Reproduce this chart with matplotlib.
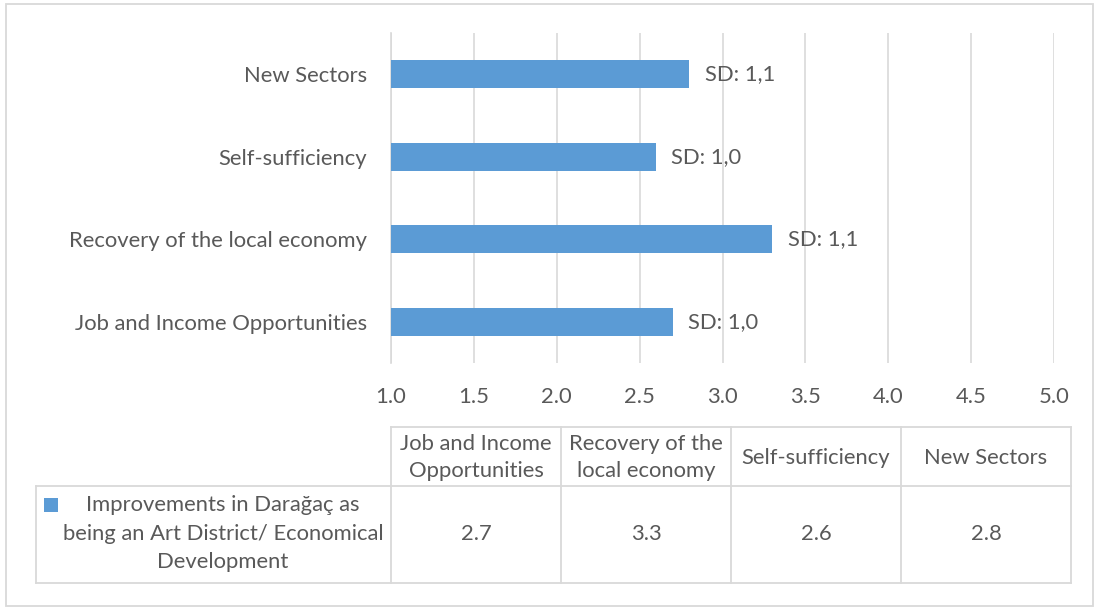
import numpy as np
import matplotlib
matplotlib.use("Agg")
import matplotlib.pyplot as plt
from matplotlib.patches import Rectangle

plt.rcParams["font.family"] = ["Lato", "DejaVu Sans"]

# data
categories = ["Job and Income Opportunities", "Recovery of the local economy",
              "Self-sufficiency", "New Sectors"]
header_labels = ["Job and Income\nOpportunities", "Recovery of the\nlocal economy",
                 "Self-sufficiency", "New Sectors"]
means = [2.7, 3.3, 2.6, 2.8]
sd_labels = ["SD: 1,0", "SD: 1,1", "SD: 1,0", "SD: 1,1"]
x_ticks = [1.0, 1.5, 2.0, 2.5, 3.0, 3.5, 4.0, 4.5, 5.0]
series_name = "Improvements in Darağaç as\nbeing an Art District/ Economical\nDevelopment"

BAR = "#5B9BD5"
GRID = "#D9D9D9"
TXT = "#595959"
FS = 15.8

W, H = 1099, 610
fig = plt.figure(figsize=(W / 100, H / 100), dpi=100)

# bar chart area (pixel box -> figure fraction)
x0, x1, y0, y1 = 391, 1054, 33, 363
ax = fig.add_axes([x0 / W, 1 - y1 / H, (x1 - x0) / W, (y1 - y0) / H])
ypos = np.arange(len(categories))
ax.barh(ypos, means, height=0.34, color=BAR, zorder=3)
for y, m, s in zip(ypos, means, sd_labels):
    ax.annotate(s, xy=(m, y), xytext=(11, 0), textcoords="offset points",
                va="center", ha="left", fontsize=FS, color=TXT)
ax.set_xlim(1, 5)
ax.set_ylim(-0.5, len(categories) - 0.5)
ax.set_xticks(x_ticks)
ax.set_xticklabels([f"{t:.1f}" for t in x_ticks])
ax.set_yticks(ypos)
ax.set_yticklabels(categories)
ax.tick_params(axis="both", length=0, labelsize=FS, labelcolor=TXT)
ax.tick_params(axis="x", pad=17.5)
ax.tick_params(axis="y", pad=17)
ax.grid(axis="x", color=GRID, linewidth=1.2, zorder=0)
for side in ("top", "right", "bottom"):
    ax.spines[side].set_visible(False)
ax.spines["left"].set_color(GRID)
ax.spines["left"].set_linewidth(1.2)

# data table drawn in pixel coordinates below the chart
ov = fig.add_axes([0, 0, 1, 1], facecolor="none")
ov.set_xlim(0, W)
ov.set_ylim(H, 0)
ov.axis("off")

lc = dict(color=GRID, linewidth=1.3)
ov.add_patch(Rectangle((6, 4), 1087, 602, fill=False, edgecolor=GRID, linewidth=1.3))

col_w = 170
tx0 = 391
t_top, t_mid, t_bot = 427, 486, 583
ncol = len(header_labels)
tx1 = tx0 + col_w * ncol
leg_x = 36

ov.plot([tx0, tx1], [t_top, t_top], **lc)
ov.plot([leg_x, tx1], [t_mid, t_mid], **lc)
ov.plot([leg_x, tx1], [t_bot, t_bot], **lc)
ov.plot([leg_x, leg_x], [t_mid, t_bot], **lc)
for k in range(ncol + 1):
    xk = tx0 + col_w * k
    ov.plot([xk, xk], [t_top, t_bot], **lc)

for k, (lab, m) in enumerate(zip(header_labels, means)):
    cx = tx0 + col_w * (k + 0.5)
    ov.text(cx, (t_top + t_mid) / 2 + 1, lab, ha="center", va="center",
            fontsize=FS, color=TXT, linespacing=1.4)
    ov.text(cx, (t_mid + t_bot) / 2, f"{m:.1f}", ha="center", va="center",
            fontsize=FS, color=TXT)

ov.add_patch(Rectangle((44, 498), 14, 14, color=BAR, linewidth=0))
ov.text(223, (t_mid + t_bot) / 2 - 1, series_name, ha="center", va="center",
        fontsize=FS, color=TXT, linespacing=1.55)

fig.savefig("out.png", dpi=100)
